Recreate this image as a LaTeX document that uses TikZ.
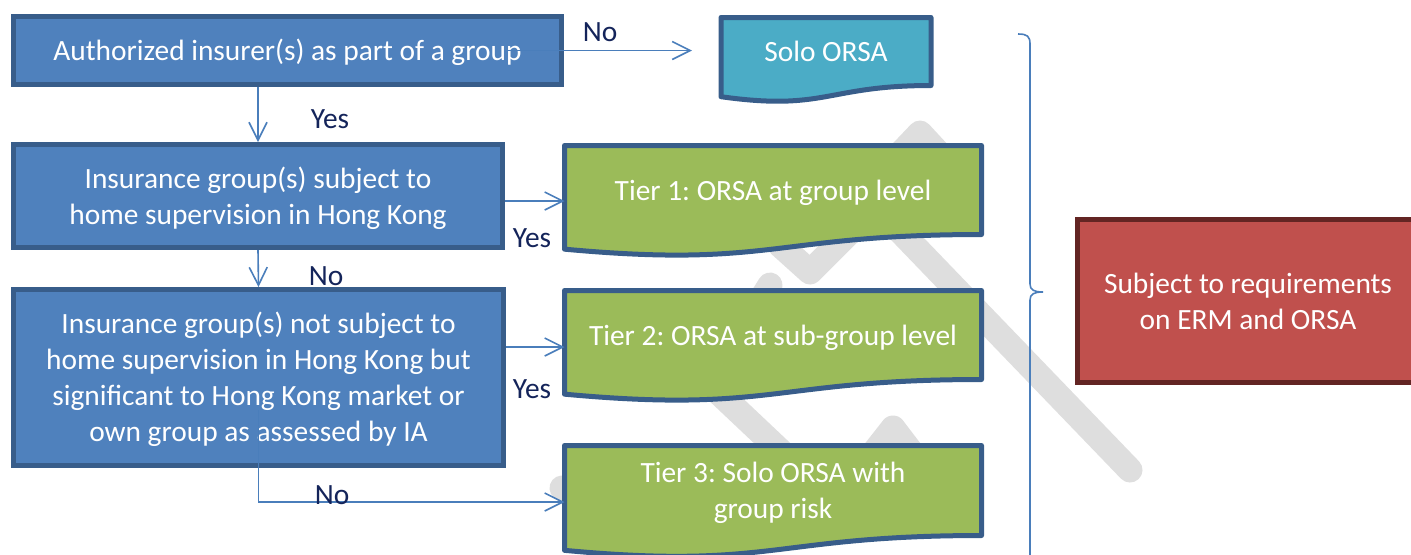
\documentclass[tikz,border=0pt]{standalone}
\usepackage{fontspec}
\setmainfont{Carlito}
\usetikzlibrary{arrows.meta,calc,backgrounds,positioning}

\definecolor{boxblue}{HTML}{4F81BD}
\definecolor{edgeblue}{HTML}{385D8A}
\definecolor{soloteal}{HTML}{4BACC6}
\definecolor{tiergreen}{HTML}{9BBB59}
\definecolor{reqred}{HTML}{C0504D}
\definecolor{reqedge}{HTML}{632523}
\definecolor{linkblue}{HTML}{4A7EBB}
\definecolor{lblnavy}{HTML}{14245A}
\definecolor{wmgray}{HTML}{DEDEDE}

% one text line as tall as a word-processor line
\newcommand{\lstrut}{\rule[-3.95pt]{0pt}{17.95pt}}

\tikzset{
  txt/.style={text=white, font=\fontsize{14.7}{18}\selectfont\frenchspacing, align=center, inner sep=0pt},
  stepbox/.style={txt, rectangle, draw=edgeblue, fill=boxblue, line width=2.5pt, outer sep=1.25pt},
  reqbox/.style={txt, rectangle, draw=reqedge, fill=reqred, line width=2.5pt, outer sep=1.25pt},
  docbox/.style={txt, rectangle, outer sep=0pt},
  link/.style={draw=linkblue, line width=0.8pt, -{Straight Barb[length=9pt,width=9pt]}},
  lbl/.style={text=lblnavy, font=\fontsize{14.7}{18}\selectfont, inner sep=0pt},
  wm/.style={draw=wmgray, line width=12.5pt, line cap=round, line join=round},
  brace/.style={draw=linkblue, line width=0.8pt}
}

% wavy "document" outline under a text node
\newcommand{\docshape}[2]{%
  \path[fill=#2, draw=edgeblue, line width=2.5pt, line join=round]
    let \p1=($(#1.north)-(#1.south)$) in
    (#1.north west) -- (#1.north east) -- (#1.south east)
    .. controls (#1.south) and ($(#1.south)+(0pt,{-0.381*\y1})$)
    .. ($(#1.south west)+(0pt,{-0.1646*\y1})$) -- cycle;}

\begin{document}
\begin{tikzpicture}[x=0.5pt, y=-0.5pt]
  \useasboundingbox (0,0) rectangle (1411,554);

  \node (auth) at (287.5,50.5) [stepbox, minimum width=274pt, minimum height=34pt] {\lstrut Authorized insurer(s) as part of a group};
  \node (home) at (258,196) [stepbox, minimum width=244.5pt, minimum height=51.5pt] {\lstrut Insurance group(s) subject to\\\lstrut home supervision in Hong Kong};
  \node (sig) at (258.5,377.5) [stepbox, minimum width=245pt, minimum height=88pt] {\lstrut Insurance group(s) not subject to\\\lstrut home supervision in Hong Kong but\\\lstrut significant to Hong Kong market or\\\lstrut own group as assessed by IA};
  \node (req) at (1248,301) [reqbox, minimum width=170.5pt, minimum height=81.5pt] {\lstrut Subject to requirements\\\lstrut on ERM and ORSA};

  \node (solo) at (826,51.5) [docbox, minimum width=105pt, minimum height=34pt] {\lstrut Solo ORSA};
  \node (tier1) at (773,190) [docbox, minimum width=208.5pt, minimum height=44.5pt] {\lstrut Tier 1: ORSA at group level};
  \node (tier2) at (773,335) [docbox, minimum width=208.5pt, minimum height=44.5pt] {\lstrut Tier 2: ORSA at sub-group level};
  \node (tier3) at (773,490.5) [docbox, minimum width=208.5pt, minimum height=45pt] {\lstrut Tier 3: Solo ORSA with\\\lstrut group risk};

  \begin{scope}[on background layer]
    % watermark pieces
    \draw[wm] (870,200) -- (1130,470);
    \draw[wm] (880,175) -- (920,133) -- (945,160);
    \draw[wm] (780,245) -- (810,272) -- (850,232);
    \draw[wm] (770,285) -- (745,325);
    \draw[wm] (700,375) -- (790,460);
    \draw[wm] (860,470) -- (893,428) -- (925,470);
    \draw[wm] (562,488) -- (600,520);
    \docshape{solo}{soloteal}
    \docshape{tier1}{tiergreen}
    \docshape{tier2}{tiergreen}
    \docshape{tier3}{tiergreen}
  \end{scope}

  \coordinate (in1) at ([yshift=-5.5pt]tier1.west);
  \coordinate (in2) at ([yshift=-6pt]tier2.west);
  \coordinate (in3) at ([yshift=-5.75pt]tier3.west);

  \draw[link, shorten >=14.5pt] ([xshift=-28.5pt]auth.east) -- (auth.east -| solo.west);
  \draw[link] (auth.south -| home.north) -- (home.north);
  \draw[link] (home.south) -- (sig.north);
  \draw[link] (in1 -| home.east) -- (in1);
  \draw[link] (in2 -| sig.east) -- (in2);
  \draw[link] ([yshift=29pt]sig.south) |- (in3);

  \node (no1) at (600,32) [lbl] {No};
  \node (yes1) at (330,119) [lbl] {Yes};
  \node (no2) at (326,276) [lbl] {No};
  \node (yes2) at (532,238) [lbl] {Yes};
  \node (yes3) at (532,389) [lbl] {Yes};
  \node (no3) at (332,495) [lbl] {No};

  \draw[brace] (1018,34) .. controls (1027,34) and (1030,36) .. (1030,44) -- (1030,284)
    .. controls (1030,290) and (1034,292) .. (1043,292)
    .. controls (1034,292) and (1030,294) .. (1030,300) -- (1030,580);
\end{tikzpicture}
\end{document}
